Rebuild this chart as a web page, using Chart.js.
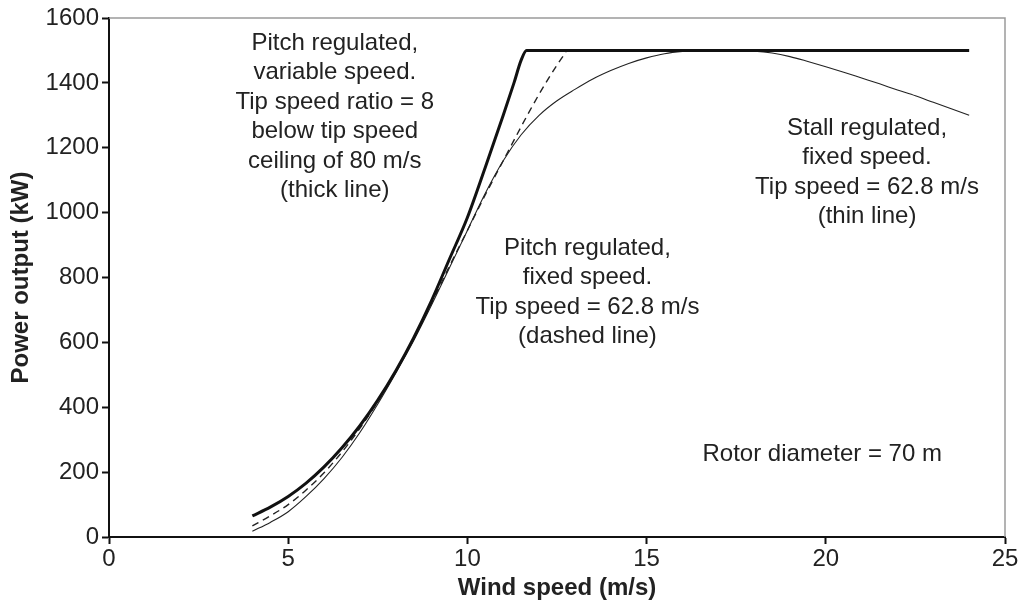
<!DOCTYPE html>
<html>
<head>
<meta charset="utf-8">
<script src="https://cdn.jsdelivr.net/npm/chart.js@4.4.1/dist/chart.umd.min.js"></script>
<style>
    html, body { margin: 0; padding: 0; background: #fff; }
    #wrap { width: 1034px; height: 603px; position: relative; }
</style>
</head>
<body>
<div id="wrap"><canvas id="powerChart"></canvas></div>
<script>
// Power curves, wind speed (m/s) -> power output (kW)
const thickSpeed = [4, 4.5, 5, 5.5, 6, 6.5, 7, 7.5, 8, 8.5, 9, 9.5, 10, 10.5, 11, 11.3, 11.5, 11.65, 12, 14, 16, 18, 20, 22, 24];
const thickPower = [65, 92, 125, 166, 216, 275, 343, 422, 512, 614, 729, 857, 985, 1140, 1300, 1400, 1470, 1500, 1500, 1500, 1500, 1500, 1500, 1500, 1500];

const dashedSpeed = [4, 4.5, 5, 5.5, 6, 6.5, 7, 7.5, 8, 8.5, 9, 9.5, 10, 10.5, 11, 11.5, 12, 12.5, 12.75];
const dashedPower = [34, 65, 100, 145, 198, 262, 335, 418, 510, 610, 720, 835, 945, 1055, 1160, 1265, 1365, 1455, 1495];

const thinSpeed = [4, 4.5, 5, 5.5, 6, 6.5, 7, 7.5, 8, 8.5, 9, 9.5, 10, 10.5, 11, 11.5, 12, 12.5, 13, 13.5, 14, 14.5, 15, 15.5, 16, 16.5, 17, 17.5, 18, 18.5, 19, 19.5, 20, 20.5, 21, 21.5, 22, 22.5, 23, 23.5, 24];
const thinPower = [18, 45, 78, 125, 180, 245, 322, 410, 505, 605, 715, 830, 945, 1060, 1160, 1240, 1300, 1345, 1380, 1412, 1438, 1460, 1477, 1490, 1497, 1500, 1500, 1500, 1498, 1492, 1481, 1466, 1450, 1433, 1415, 1397, 1378, 1360, 1340, 1320, 1300];

// Text notes, anchored at (wind speed, power) of the first line
const noteLines = [
    ['Pitch regulated,', 'variable speed.', 'Tip speed ratio = 8', 'below tip speed', 'ceiling of 80 m/s', '(thick line)'],
    ['Pitch regulated,', 'fixed speed.', 'Tip speed = 62.8 m/s', '(dashed line)'],
    ['Stall regulated,', 'fixed speed.', 'Tip speed = 62.8 m/s', '(thin line)'],
    ['Rotor diameter = 70 m']
];
const noteSpeed = [6.3, 13.35, 21.15, 19.9];
const notePower = [1523, 891, 1261, 256];

const FONT = '"Liberation Sans", Arial, Helvetica, sans-serif';
const TEXT = '#222';

const toPoints = (xs, ys) => xs.map((x, i) => ({ x: x, y: ys[i] }));

// Gray frame on top/right, plus the notes
const framePlugin = {
    id: 'frameNotes',
    beforeDatasetsDraw(chart) {
        const { ctx, chartArea: a } = chart;
        ctx.save();
        ctx.strokeStyle = '#9a9a9a';
        ctx.lineWidth = 1.5;
        ctx.beginPath();
        ctx.moveTo(a.left, a.top);
        ctx.lineTo(a.right, a.top);
        ctx.lineTo(a.right, a.bottom);
        ctx.stroke();
        ctx.restore();
    },
    afterDatasetsDraw(chart) {
        const { ctx, scales } = chart;
        ctx.save();
        ctx.fillStyle = TEXT;
        ctx.font = '24px ' + FONT;
        ctx.textAlign = 'center';
        ctx.textBaseline = 'middle';
        noteLines.forEach((lines, i) => {
            const cx = scales.x.getPixelForValue(noteSpeed[i]);
            const cy = scales.y.getPixelForValue(notePower[i]);
            lines.forEach((line, j) => ctx.fillText(line, cx, cy + j * 29.5));
        });
        ctx.restore();
    }
};

const ctx = document.getElementById('powerChart').getContext('2d');
new Chart(ctx, {
    type: 'line',
    data: {
        datasets: [
            {
                data: toPoints(thickSpeed, thickPower),
                borderColor: '#111',
                borderWidth: 3,
                order: 0
            },
            {
                data: toPoints(dashedSpeed, dashedPower),
                borderColor: '#222',
                borderWidth: 1.4,
                borderDash: [7, 5],
                order: 1
            },
            {
                data: toPoints(thinSpeed, thinPower),
                borderColor: '#222',
                borderWidth: 1.1,
                order: 2
            }
        ]
    },
    options: {
        responsive: true,
        maintainAspectRatio: false,
        animation: false,
        elements: {
            point: { radius: 0 },
            line: { cubicInterpolationMode: 'monotone', fill: false }
        },
        layout: { padding: { top: 18, right: 29, bottom: 0, left: 0 } },
        plugins: {
            legend: { display: false },
            tooltip: { enabled: false }
        },
        scales: {
            x: {
                type: 'linear',
                min: 0,
                max: 25,
                ticks: {
                    stepSize: 5, color: TEXT, font: { family: FONT, size: 24 }, padding: 1, maxRotation: 0,
                    callback: (v) => String(v)
                },
                grid: { drawOnChartArea: false, drawTicks: true, tickLength: 7, tickColor: '#111', tickWidth: 2 },
                border: { color: '#111', width: 2 },
                title: {
                    display: true,
                    text: 'Wind speed (m/s)',
                    color: TEXT,
                    font: { family: FONT, size: 24, weight: 'bold' },
                    padding: { top: 0, bottom: 0 }
                },
                afterFit(scale) { scale.height = 66; }
            },
            y: {
                min: 0,
                max: 1600,
                ticks: {
                    stepSize: 200, color: TEXT, font: { family: FONT, size: 24 }, padding: 3,
                    callback: (v) => String(v)
                },
                grid: { drawOnChartArea: false, drawTicks: true, tickLength: 7, tickColor: '#111', tickWidth: 2 },
                border: { color: '#111', width: 2 },
                title: {
                    display: true,
                    text: 'Power output (kW)',
                    color: TEXT,
                    font: { family: FONT, size: 24, weight: 'bold' },
                    padding: { top: 7, bottom: 0 }
                },
                afterFit(scale) { scale.width = 109; }
            }
        }
    },
    plugins: [framePlugin]
});
</script>
</body>
</html>
